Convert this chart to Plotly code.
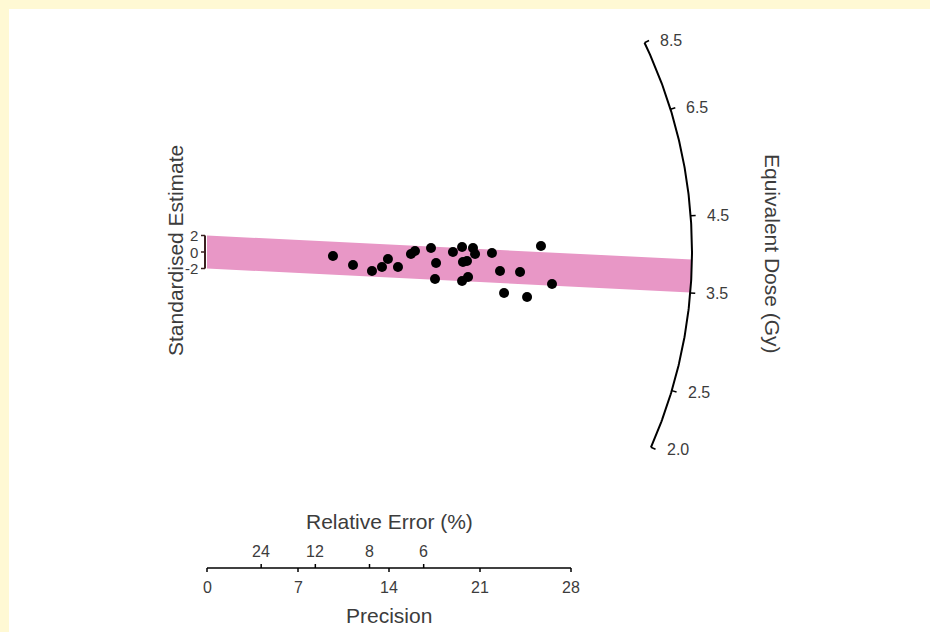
import numpy as np
import plotly.graph_objects as go

# data
precision = [9.69, 11.23, 12.69, 13.46, 13.92, 14.69, 15.69, 16.0, 17.23, 17.62, 17.54, 18.92, 19.62,
             19.69, 19.62, 20.08, 20.46, 20.62, 20.0, 21.92, 22.54, 22.85, 24.08, 24.62, 25.69, 26.54]
std_estimate = [-0.48, -1.58, -2.30, -1.82, -0.85, -1.82, -0.24, 0.12, 0.48, -1.33, -3.27, 0.0, 0.61,
                -1.21, -3.52, -3.03, 0.48, -0.24, -1.09, -0.12, -2.30, -4.97, -2.42, -5.45, 0.73, -3.88]

prec_ticks = [0, 7, 14, 21, 28]
rel_err_ticks = [24, 12, 8, 6]
dose_ticks = [2.0, 2.5, 3.5, 4.5, 6.5, 8.5]
z_ticks = [2, 0, -2]
ref_dose = 4.0
central_dose = 3.70

# page geometry (pixels)
W, H = 930, 632
ML, MT = 9, 9
OX, OY = 207, 252      # origin of the radial plot
KX, KY = 13.0, 8.25    # px per precision unit / px per z unit
R = 485                # arc radius in px

x_range = [(ML - OX) / KX, (W - OX) / KX]
y_range = [(OY - H) / KY, (OY - MT) / KY]


def px_y(py):
    return (OY - py) / KY


def px_x(px):
    return (px - OX) / KX


def angle(dose):
    s = (np.log(dose) - np.log(ref_dose)) * KY / KX
    return np.arctan(s)


def polar(theta, r=R):
    return r * np.cos(theta) / KX, r * np.sin(theta) / KY


TXT = "#3c3c3c"
FONT = "Liberation Sans, Arial, sans-serif"

fig = go.Figure()

# confidence band (+-2) around central value, clipped at the arc
s_c = np.log(central_dose) - np.log(ref_dose)
ends = []
for c in [2, -2]:
    a = KX ** 2 + KY ** 2 * s_c ** 2
    b = 2 * KY ** 2 * c * s_c
    cc = KY ** 2 * c ** 2 - R ** 2
    x = (-b + np.sqrt(b * b - 4 * a * cc)) / (2 * a)
    ends.append(np.arctan2(KY * (c + s_c * x), KX * x))
th = np.linspace(ends[0], ends[1], 30)
bx, by = polar(th)
band_x = [0] + list(bx) + [0]
band_y = [2] + list(by) + [-2]
fig.add_trace(go.Scatter(x=band_x, y=band_y, fill="toself", fillcolor="#E897C6",
                         line=dict(width=0), mode="lines", hoverinfo="skip"))

# arc
th = np.linspace(angle(dose_ticks[0]), angle(dose_ticks[-1]), 200)
ax_, ay_ = polar(th)
fig.add_trace(go.Scatter(x=ax_, y=ay_, mode="lines", line=dict(color="black", width=2), hoverinfo="skip"))
for d in dose_ticks:
    t = angle(d)
    x0, y0 = polar(t)
    x1, y1 = polar(t, R + 5)
    fig.add_trace(go.Scatter(x=[x0, x1], y=[y0, y1], mode="lines", line=dict(color="black", width=1.5),
                             hoverinfo="skip"))
    fig.add_annotation(x=x1, y=y1, text=f"{d:.1f}", showarrow=False, xanchor="left", xshift=9,
                       font=dict(size=16, color=TXT))

# points
fig.add_trace(go.Scatter(x=precision, y=std_estimate, mode="markers",
                         marker=dict(color="black", size=10)))

# z bracket on the left
bxp = px_x(205)
fig.add_trace(go.Scatter(x=[bxp, bxp], y=[z_ticks[0], z_ticks[-1]], mode="lines",
                         line=dict(color="#3a2020", width=2), hoverinfo="skip"))
for z in z_ticks:
    fig.add_trace(go.Scatter(x=[bxp, px_x(201)], y=[z, z], mode="lines",
                             line=dict(color="#3a2020", width=1.5), hoverinfo="skip"))
    fig.add_annotation(x=px_x(200), y=z, text=str(z), showarrow=False, xanchor="right",
                       font=dict(size=15, color=TXT))

# precision axis / relative error axis
y_axis = px_y(568)
fig.add_trace(go.Scatter(x=[prec_ticks[0], prec_ticks[-1]], y=[y_axis, y_axis], mode="lines",
                         line=dict(color="black", width=1.5), hoverinfo="skip"))
for p in prec_ticks:
    fig.add_trace(go.Scatter(x=[p, p], y=[y_axis, px_y(572)], mode="lines",
                             line=dict(color="black", width=1.5), hoverinfo="skip"))
    fig.add_annotation(x=p, y=px_y(587), text=str(p), showarrow=False, font=dict(size=16, color=TXT))
for re in rel_err_ticks:
    fig.add_trace(go.Scatter(x=[100 / re, 100 / re], y=[y_axis, px_y(564)], mode="lines",
                             line=dict(color="black", width=1.5), hoverinfo="skip"))
    fig.add_annotation(x=100 / re, y=px_y(551), text=str(re), showarrow=False,
                       font=dict(size=16, color=TXT))

fig.add_annotation(x=14, y=px_y(521), text="Relative Error (%)", showarrow=False,
                   font=dict(size=21, color=TXT))
fig.add_annotation(x=14, y=px_y(615), text="Precision", showarrow=False,
                   font=dict(size=21, color=TXT))
fig.add_annotation(x=px_x(175), y=px_y(251), text="Standardised Estimate", showarrow=False,
                   textangle=-90, font=dict(size=21, color=TXT))
fig.add_annotation(x=px_x(773), y=px_y(254), text="Equivalent Dose (Gy)", showarrow=False,
                   textangle=90, font=dict(size=21, color=TXT))

fig.update_layout(
    width=W, height=H,
    margin=dict(l=ML, t=MT, r=0, b=0),
    paper_bgcolor="#FFF9D4",
    plot_bgcolor="white",
    showlegend=False,
    font=dict(family=FONT, color=TXT),
    xaxis=dict(range=x_range, visible=False, fixedrange=True),
    yaxis=dict(range=y_range, visible=False, fixedrange=True),
)

# drop the browser's default body margin so the figure sits at the page corner
fig.write_html("out.html", config={"displayModeBar": False},
               post_script="document.body.style.margin='0';")
